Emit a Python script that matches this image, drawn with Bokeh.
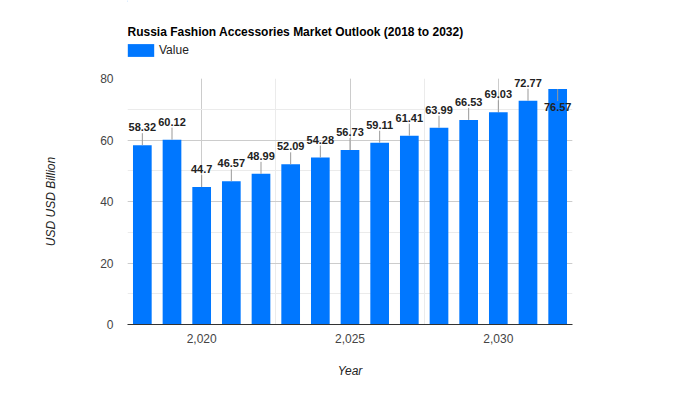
import math
from bokeh.plotting import figure
from bokeh.layouts import column
from bokeh.models import (ColumnDataSource, SingleIntervalTicker, NumeralTickFormatter,
                          Label, Legend, LegendItem, Range1d)
from bokeh.embed import file_html
from bokeh.resources import INLINE
from bokeh.core.properties import value

# ---- data ----
years = [2018, 2019, 2020, 2021, 2022, 2023, 2024, 2025, 2026, 2027, 2028, 2029, 2030, 2031, 2032]
values = [58.32, 60.12, 44.7, 46.57, 48.99, 52.09, 54.28, 56.73, 59.11, 61.41, 63.99, 66.53, 69.03, 72.77, 76.57]
value_labels = ["58.32", "60.12", "44.7", "46.57", "48.99", "52.09", "54.28", "56.73",
                "59.11", "61.41", "63.99", "66.53", "69.03", "72.77", "76.57"]
series_name = "Value"
title_text = "Russia Fashion Accessories Market Outlook (2018 to 2032)"
x_title = "Year"
y_title = "USD USD Billion"

FONT = "Liberation Sans"
BAR = "#0077ff"
Y_MAX = 80

W = 684
HEAD_H = 60

# ---- header: title + legend (its frame is aligned with the chart frame) ----
head = figure(width=W, height=HEAD_H, output_backend="svg", toolbar_location=None,
              title_location=None, x_axis_type=None, y_axis_type=None,
              x_range=Range1d(0, 1), y_range=Range1d(HEAD_H, 0),
              min_border=0)
head.outline_line_color = None
head.xgrid.visible = False
head.ygrid.visible = False
head.add_layout(Label(x=0, y=31.7, text=title_text, text_baseline="alphabetic",
                      text_font=FONT, text_font_size="12px", text_font_style="bold",
                      text_color="#000000"))
swatch = head.vbar(x=[-10], top=[1], width=1, fill_color=BAR, line_color=None)
legend = Legend(items=[LegendItem(label=series_name, renderers=[swatch])],
                location=(-3, 2.5), orientation="horizontal",
                padding=0, margin=0, spacing=0, border_line_color=None,
                background_fill_alpha=0, glyph_width=33, glyph_height=16,
                label_height=16, label_standoff=2,
                label_text_font=FONT, label_text_font_size="12px",
                label_text_color="#222222")
head.add_layout(legend, "center")

# ---- main chart ----
inside = [v > Y_MAX - 5 for v in values]
src = ColumnDataSource(dict(
    year=years, val=values, label=value_labels,
    stem_angle=[-math.pi / 2 if i else math.pi / 2 for i in inside],
    yoff=[18 if i else -18 for i in inside],
))

p = figure(width=W, height=324, output_backend="svg", toolbar_location=None,
           title_location=None,
           x_range=Range1d(2017.5, 2032.5), y_range=Range1d(0, Y_MAX),
           min_border_left=127, min_border_right=112, min_border_top=18, min_border_bottom=60)
p.outline_line_color = None
p.background_fill_color = "white"
p.border_fill_color = "white"

bars = p.vbar(x="year", top="val", width=0.63, bottom=0, source=src,
              fill_color=BAR, line_color=None)
p.ray(x="year", y="val", length=12, length_units="screen", angle="stem_angle",
      line_color="#999999", line_width=1, source=src)
p.text(x="year", y="val", text="label", y_offset="yoff", source=src,
       text_align="center", text_baseline="alphabetic",
       text_font=value(FONT), text_font_style="bold", text_font_size="11px",
       text_color="#222222")

xt = SingleIntervalTicker(interval=5, num_minor_ticks=2)
yt = SingleIntervalTicker(interval=20, num_minor_ticks=2)
p.xaxis.ticker = xt
p.yaxis.ticker = yt
p.xaxis.formatter = NumeralTickFormatter(format="0,0")
for ax in (p.xaxis, p.yaxis):
    ax.major_tick_line_color = None
    ax.minor_tick_line_color = None
    ax.major_tick_in = 0
    ax.major_tick_out = 0
    ax.minor_tick_in = 0
    ax.minor_tick_out = 0
    ax.major_label_text_font = FONT
    ax.major_label_text_font_size = "12px"
    ax.major_label_text_color = "#444444"
    ax.axis_label_text_font = FONT
    ax.axis_label_text_font_size = "12px"
    ax.axis_label_text_font_style = "italic"
    ax.axis_label_text_color = "#222222"
p.xaxis.axis_line_color = "#333333"
p.yaxis.axis_line_color = None
p.xaxis.major_label_standoff = 9
p.yaxis.major_label_standoff = 14
p.xaxis.axis_label = x_title
p.yaxis.axis_label = y_title
p.xaxis.axis_label_standoff = 18
p.yaxis.axis_label_standoff = 39

p.xgrid.ticker = xt
p.ygrid.ticker = yt
p.xgrid.grid_line_color = "#cccccc"
p.ygrid.grid_line_color = "#cccccc"
p.xgrid.minor_grid_line_color = "#ebebeb"
p.ygrid.minor_grid_line_color = "#ebebeb"

layout = column(head, p, spacing=0)
open("out.html", "w").write(file_html(layout, INLINE))
